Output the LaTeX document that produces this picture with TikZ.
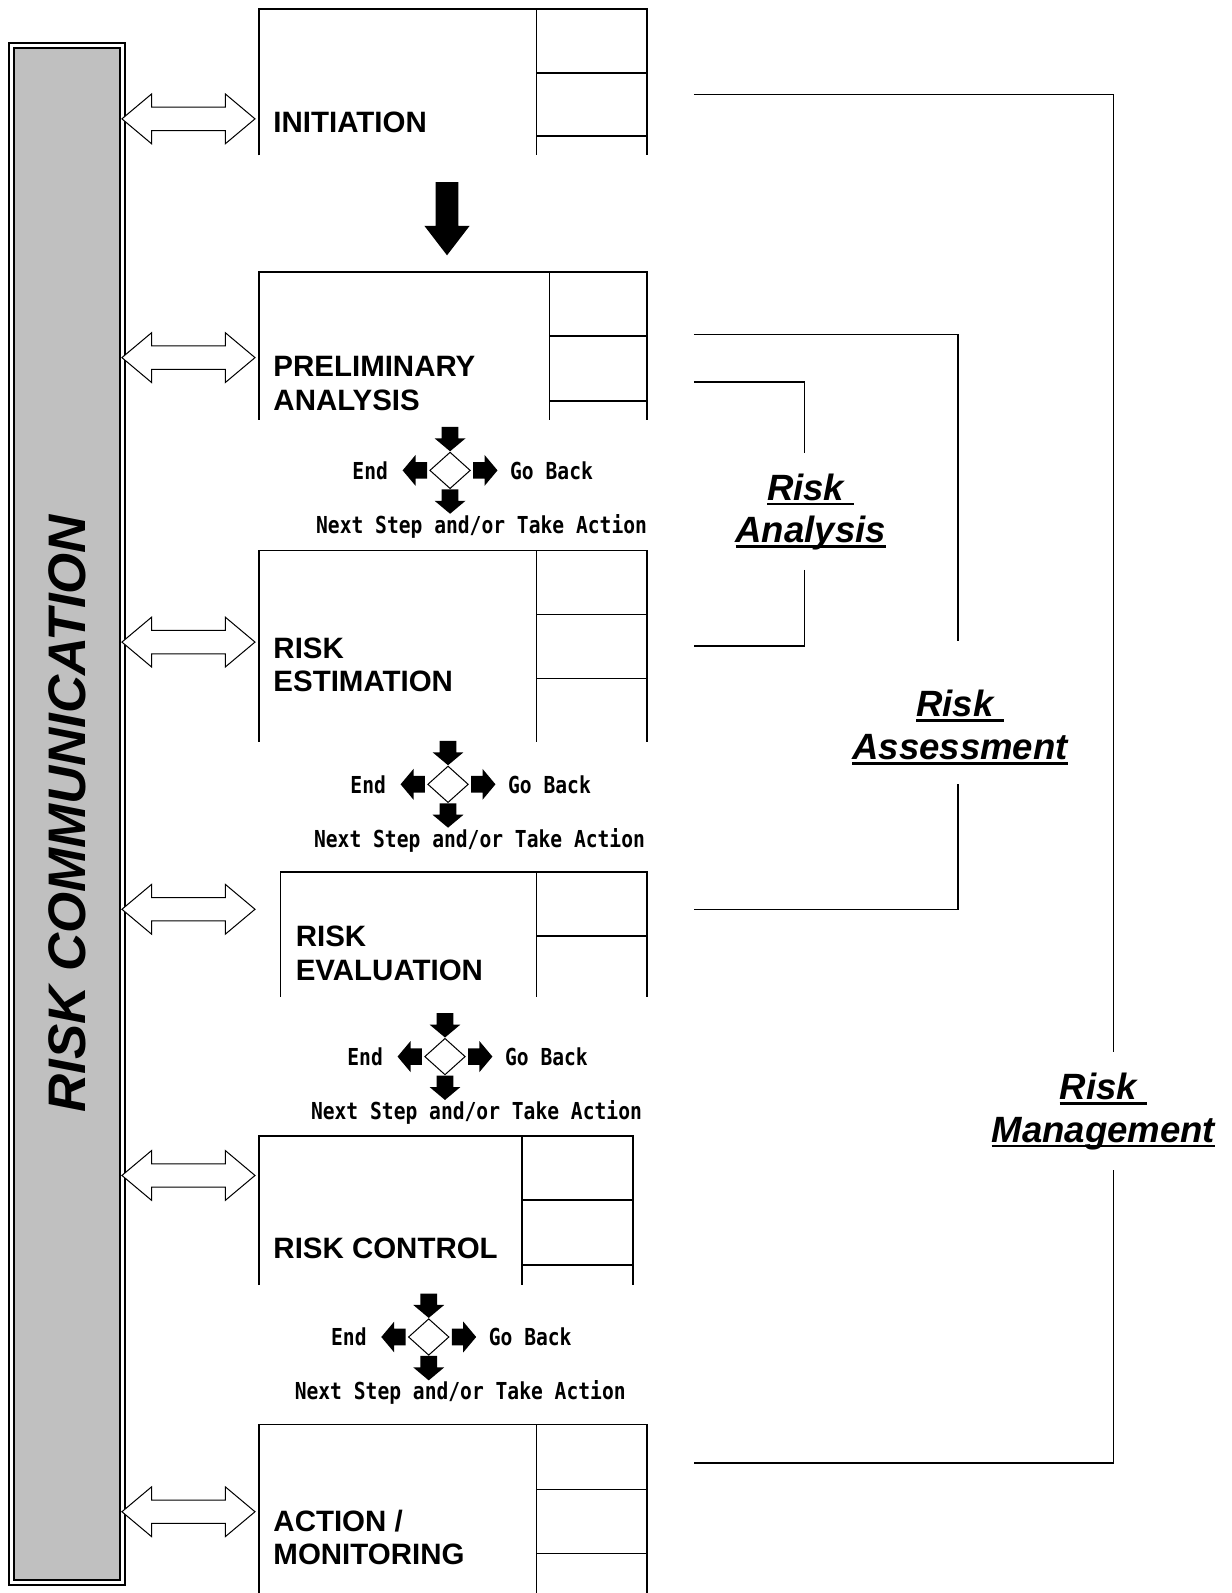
\documentclass[tikz,border=0pt]{standalone}
\usepackage{fontspec}
\setmainfont{Liberation Sans}
\newfontfamily\codefont{DejaVu Sans Mono}[FakeStretch=0.84]
\usetikzlibrary{positioning,shapes.arrows,shapes.geometric}
\definecolor{barfill}{RGB}{192,192,192}
\newcommand\riskline[1]{\setbox0\hbox{#1}\rlap{\rule[-5pt]{\wd0}{2.5pt}}\box0}

\begin{document}
\begin{tikzpicture}[x=1pt, y=-1pt,
    frame/.style={line width=1.6pt},
    bracket/.style={line width=1.4pt},
    steplabel/.style={anchor=base west, align=left, inner sep=0pt, font=\fontsize{29}{33}\selectfont\bfseries},
    talk/.style={double arrow, draw, fill=white, line width=1pt, minimum height=131pt, minimum width=0pt, inner sep=0pt, text height=11pt, text depth=11pt, double arrow head extend=13pt, double arrow tip angle=80},
    bigdown/.style={single arrow, fill=black, rotate=-90, minimum height=72pt, inner sep=0pt, text height=11pt, text depth=11pt, single arrow head extend=11pt, single arrow tip angle=75},
    blk/.style={single arrow, fill=black, minimum height=24pt, inner sep=0pt, text height=8pt, text depth=8pt, single arrow head extend=7pt, single arrow tip angle=100},
    choice/.style={diamond, draw, fill=white, line width=1pt, minimum width=40pt, minimum height=36pt, inner sep=0pt},
    code/.style={inner sep=0pt, font=\codefont\bfseries\fontsize{23}{26}\selectfont},
    group/.style={align=center, inner sep=0pt, font=\fontsize{36}{42}\selectfont\bfseries\itshape}]
    \useasboundingbox (0,0) rectangle (1212,1568);

    % communication bar
    \node[draw, line width=1.8pt, double=white, double distance=3pt, fill=barfill, rotate=90,
          minimum width=1513pt, minimum height=109pt, inner sep=0pt,
          font=\fontsize{52}{60}\selectfont\bfseries\itshape] (comm) at (66,801) {RISK COMMUNICATION};

    % steps (label anchored on its last line)
    \draw[frame] (255,153) |- (637,9) -- (637,153) (528,9) -- (528,153) (528,72) -- (637,72) (528,134) -- (637,134);
    \node[steplabel] (init) at (269,130) {INITIATION};

    \draw[frame] (255,413) |- (637,268) -- (637,413) (541,268) -- (541,413) (541,331) -- (637,331) (541,395) -- (637,395);
    \node[steplabel] (prelim) at (269,404) {PRELIMINARY\\ANALYSIS};

    \draw[frame] (255,730) |- (637,542) -- (637,730) (528,542) -- (528,730) (528,605) -- (637,605) (528,668) -- (637,668);
    \node[steplabel] (estim) at (269,681) {RISK\\ESTIMATION};

    \draw[frame] (276,981) |- (637,858) -- (637,981) (528,858) -- (528,981) (528,921) -- (637,921);
    \node[steplabel] (evalu) at (291,965) {RISK\\EVALUATION};

    \draw[frame] (255,1265) |- (623,1118) -- (623,1265) (514,1118) -- (514,1265) (514,1181) -- (623,1181) (514,1245) -- (623,1245);
    \node[steplabel] (control) at (269,1239) {RISK CONTROL};

    \draw[frame] (255,1568) |- (637,1402) -- (637,1568) (528,1402) -- (528,1568) (528,1466) -- (637,1466) (528,1529) -- (637,1529);
    \node[steplabel] (action) at (269,1540) {ACTION /\\MONITORING};

    % links to the bar
    \node[talk] (talk1) at (185.5,117) {};
    \node[talk] (talk2) at (185.5,352) {};
    \node[talk] (talk3) at (185.5,632) {};
    \node[talk] (talk4) at (185.5,895) {};
    \node[talk] (talk5) at (185.5,1157) {};
    \node[talk] (talk6) at (185.5,1488) {};

    \node[bigdown] (go) at (440,208) {};

    % decisions
    \foreach \n/\cx/\cy in {1/443/463, 2/441/772, 3/438/1040, 4/422/1316} {
        \node[choice] (q\n) at (\cx,\cy) {};
        \node[blk, rotate=-90, anchor=tip] (qin\n) at (q\n.north) {};
        \node[blk, rotate=180, anchor=tail] (qend\n) at ([xshift=-2pt]q\n.west) {};
        \node[blk, anchor=tail] (qback\n) at ([xshift=2pt]q\n.east) {};
        \node[blk, rotate=-90, anchor=tail] (qnext\n) at (q\n.south) {};
        \node[code, left=14pt of qend\n.tip] (qendtxt\n) {End};
        \node[code, right=12pt of qback\n.tip] (qbacktxt\n) {Go Back};
        \node[code, below=0pt of qnext\n.tip, xshift=31pt] (qnexttxt\n) {Next Step and/or Take Action};
    }

    % groupings
    \node[group] (ana) at (798,504) {\riskline{Risk }\\\riskline{Analysis}};
    \node[group] (ass) at (945,716) {\riskline{Risk }\\\riskline{Assessment}};
    \node[group] (man) at (1086,1094) {\riskline{Risk }\\\riskline{Management}};

    \coordinate (a1) at (683,376); \coordinate (a2) at (683,636);
    \coordinate (s1) at (683,329); \coordinate (s2) at (683,895);
    \coordinate (m1) at (683,93);  \coordinate (m2) at (683,1440);

    \draw[bracket] (a1) -| ([xshift=-6pt, yshift=20pt]ana.north);
    \draw[bracket] ([xshift=-6pt, yshift=-19pt]ana.south) |- (a2);
    \draw[bracket] (s1) -| ([xshift=-2pt, yshift=48pt]ass.north);
    \draw[bracket] ([xshift=-2pt, yshift=-19pt]ass.south) |- (s2);
    \draw[bracket] (m1) -| ([xshift=10pt, yshift=21pt]man.north);
    \draw[bracket] ([xshift=10pt, yshift=-20pt]man.south) |- (m2);
\end{tikzpicture}
\end{document}
